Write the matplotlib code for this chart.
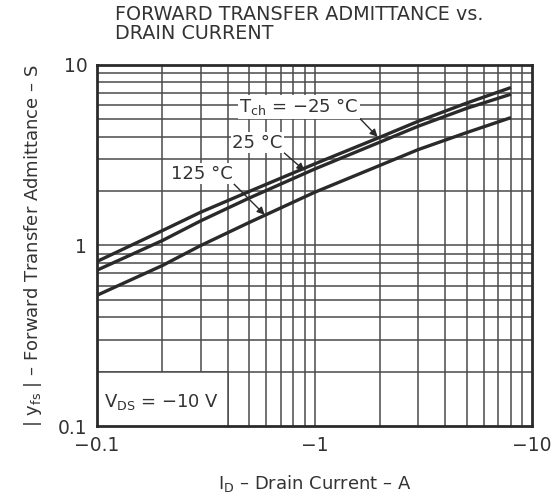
import matplotlib
matplotlib.use("Agg")
import matplotlib.pyplot as plt
from matplotlib.ticker import FixedLocator, NullLocator
from matplotlib.patches import Rectangle

plt.rcParams['font.family'] = ['DejaVu Sans']
plt.rcParams['mathtext.fontset'] = 'dejavusans'

# Data: |Id| in A (plotted on log scale, labelled negative), |yfs| in S
drain_current = [0.1, 0.2, 0.3, 0.5, 1.0, 2.0, 3.0, 5.0, 8.0]
yfs_m25 = [0.816, 1.21, 1.53, 1.99, 2.83, 3.98, 4.88, 6.15, 7.50]
yfs_25 = [0.730, 1.066, 1.37, 1.83, 2.65, 3.74, 4.58, 5.75, 6.89]
yfs_125 = [0.530, 0.775, 1.00, 1.34, 1.97, 2.78, 3.40, 4.22, 5.11]
x_tick_vals = [0.1, 1, 10]
x_tick_labels = ['\u22120.1', '\u22121', '\u221210']
y_tick_vals = [0.1, 1, 10]
y_tick_labels = ['0.1', '1', '10']

ink = '#333333'
line_col = '#2a2a2a'
grid_col = '#4a4a4a'
fig = plt.figure(figsize=(5.6, 4.98), dpi=100)
ax = fig.add_axes([97 / 560, 1 - 426 / 498, 435 / 560, 361 / 498])
ax.set_xscale('log')
ax.set_yscale('log')
ax.set_xlim(0.1, 10)
ax.set_ylim(0.1, 10)

# log grid lines (2..9 in each decade plus decade lines)
grid_vals = [m * 10.0 ** e for e in (-1, 0) for m in range(1, 10)][1:]
for gx in grid_vals:
    ax.axvline(gx, color=grid_col, lw=1.1, zorder=1)
for gy in grid_vals:
    ax.axhline(gy, color=grid_col, lw=1.1, zorder=1)

# white panel behind the V_DS note (0.1-0.4 A, 0.1-0.2 S)
ax.add_patch(Rectangle((0.1, 0.1), 0.3, 0.1, facecolor='white', edgecolor='none', zorder=2))
ax.plot([0.4, 0.4], [0.1, 0.2], color=grid_col, lw=1.1, zorder=2)
ax.plot([0.1, 0.4], [0.2, 0.2], color=grid_col, lw=1.1, zorder=2)

for ys in (yfs_m25, yfs_25, yfs_125):
    ax.plot(drain_current, ys, color=line_col, lw=2.4, zorder=3,
            solid_capstyle='butt', solid_joinstyle='round')

ax.xaxis.set_major_locator(FixedLocator(x_tick_vals))
ax.yaxis.set_major_locator(FixedLocator(y_tick_vals))
ax.xaxis.set_minor_locator(NullLocator())
ax.yaxis.set_minor_locator(NullLocator())
ax.set_xticklabels(x_tick_labels)
ax.set_yticklabels(y_tick_labels)
ax.tick_params(length=0, labelsize=13.5, colors=ink)
ax.tick_params(axis='x', pad=7)
ax.tick_params(axis='y', pad=7)
for s in ax.spines.values():
    s.set_linewidth(2.0)
    s.set_color(line_col)
    s.set_zorder(5)

bb = dict(facecolor='white', edgecolor='none', pad=1.0)
arrow = dict(arrowstyle='-|>', color=line_col, lw=1.0, mutation_scale=11,
             shrinkA=0, shrinkB=0, relpos=(1.0, 0.0))

ax.annotate('T$_{\\mathregular{ch}}$ = \u221225 \u00b0C', xy=(1.95, 4.0), xytext=(0.85, 5.86),
            ha='center', va='center', fontsize=13, color=ink, bbox=bb, zorder=6,
            arrowprops=arrow)
ax.annotate('25 \u00b0C', xy=(0.9, 2.6), xytext=(0.548, 3.71),
            ha='center', va='center', fontsize=13, color=ink, bbox=bb, zorder=6,
            arrowprops=arrow)
ax.annotate('125 \u00b0C', xy=(0.59, 1.48), xytext=(0.303, 2.5),
            ha='center', va='center', fontsize=13, color=ink, bbox=bb, zorder=6,
            arrowprops=arrow)

ax.text(0.199, 0.136, 'V$_{\\mathregular{DS}}$ = \u221210 V', ha='center', va='center',
        fontsize=13, color=ink, zorder=6)

ax.set_xlabel('I$_{\\mathregular{D}}$ \u2013 Drain Current \u2013 A', fontsize=13, color=ink, labelpad=13)
ax.set_ylabel('| y$_{\\mathregular{fs}}$ | \u2013 Forward Transfer Admittance \u2013 S', fontsize=13,
              color=ink, labelpad=10)

fig.text(115 / 560, 1 - 5 / 498, 'FORWARD TRANSFER ADMITTANCE vs.\nDRAIN CURRENT',
         ha='left', va='top', fontsize=13.8, color=ink, linespacing=1.0)

fig.savefig('out.png', dpi=100)
